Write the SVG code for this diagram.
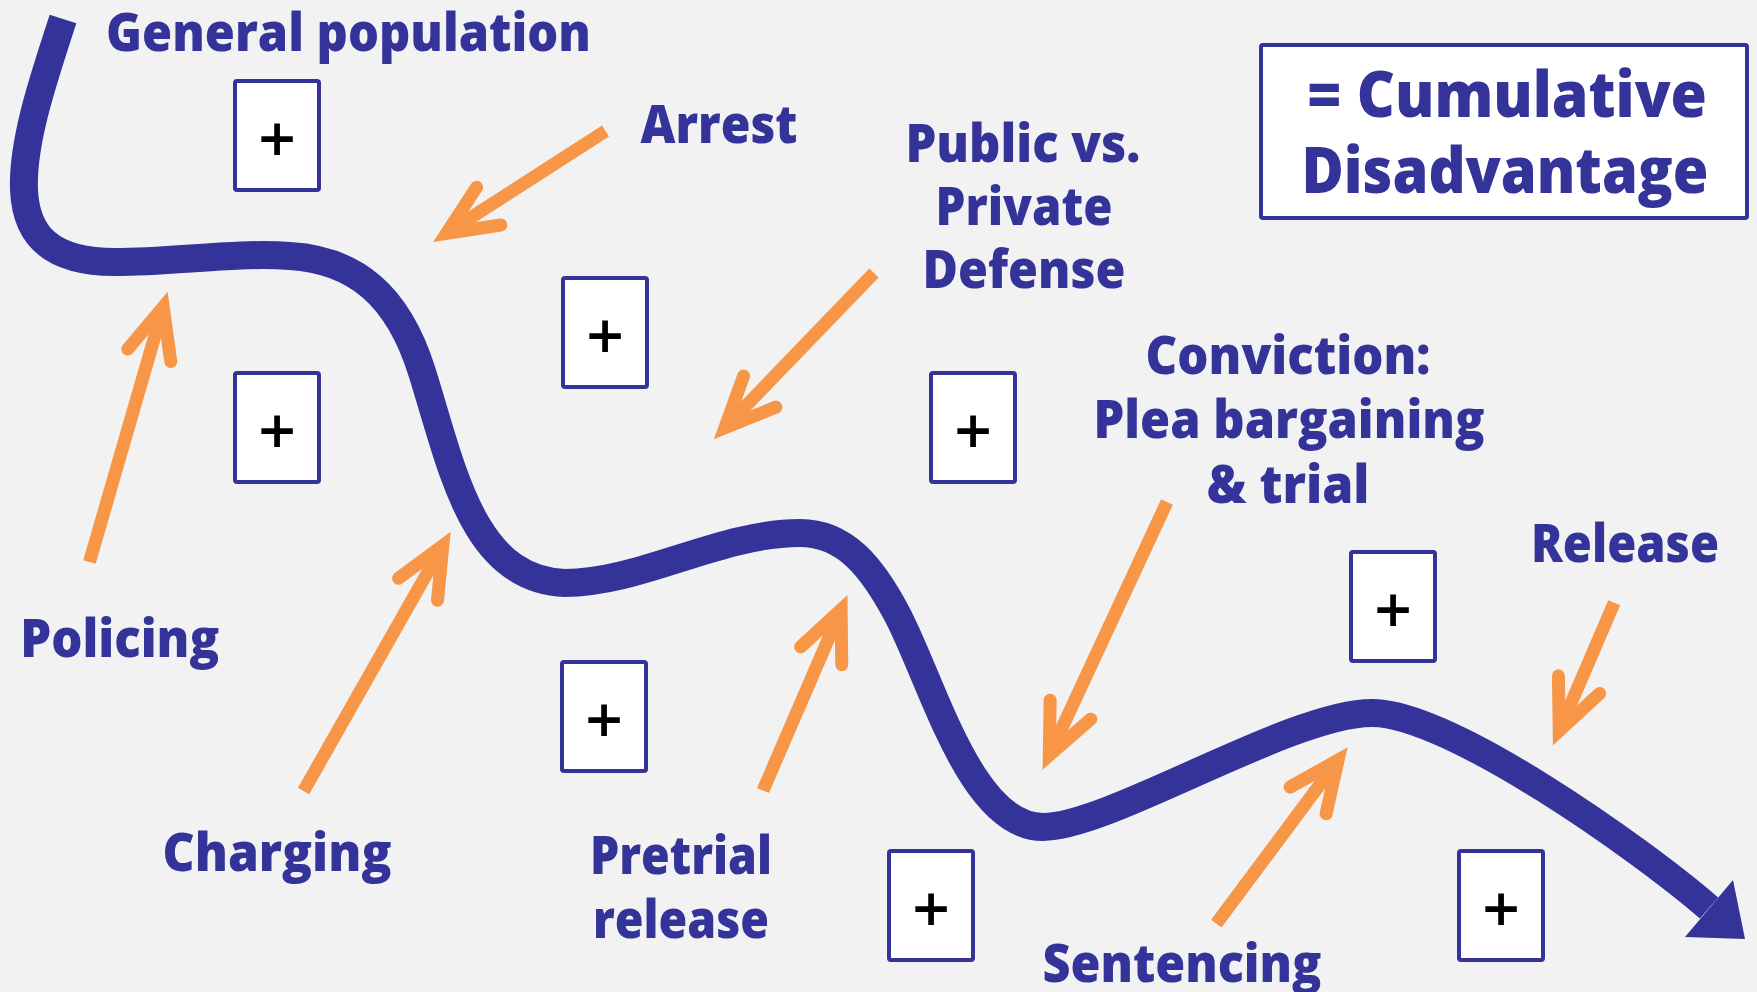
<svg xmlns="http://www.w3.org/2000/svg" width="1757" height="992" viewBox="0 0 1757 992">
<style>
.lbl{font-family:"Open Sans","Noto Sans","Liberation Sans",sans-serif;font-weight:800;font-size:53px;fill:#333399;text-anchor:middle}
.big{font-size:64px}
.box rect{fill:#ffffff;stroke:#333399;stroke-width:4}
.plus{font-family:"Open Sans","Noto Sans","Liberation Sans",sans-serif;font-weight:600;font-size:66px;fill:#000000;text-anchor:middle}
.oarrow{stroke:#F79646;stroke-width:13;fill:none;stroke-linecap:butt;marker-end:url(#oh)}
.flow{stroke:#333399;stroke-width:28;fill:none;stroke-linecap:butt}
</style>
<defs>
<marker id="oh" markerUnits="userSpaceOnUse" orient="auto" refX="0" refY="0" markerWidth="120" markerHeight="120" overflow="visible">
<path d="M-50.2,-22.4 L0,0 L-50.2,22.4" fill="none" stroke="#F79646" stroke-width="13" stroke-linecap="round" stroke-linejoin="miter" stroke-miterlimit="4"/>
</marker>
</defs>
<rect x="0" y="0" width="1757" height="992" fill="#F2F2F2"/>

<g id="connectors">
<path id="flow" class="flow" d="M63,19 C45,75 22,140 24,190 C26,235 50,262 115,262 C175,262 235,252 290,256 C355,260 398,295 422,372 C452,467 472,580 565,583 C640,583 720,533 800,533 C845,533 872,567 897,614 C932,680 970,827 1043,827 C1110,827 1290,713 1372,713 C1450,713 1642,850 1709,908"/>
<polygon id="flow-head" points="1745,939 1733,880 1685,937" fill="#333399"/>
<line id="a-policing" class="oarrow" x1="89.5" y1="562" x2="163.2" y2="307.1"/>
<line id="a-arrest" class="oarrow" x1="605.5" y1="131" x2="446.5" y2="233.3"/>
<line id="a-charging" class="oarrow" x1="303.6" y1="791" x2="442.8" y2="545.6"/>
<line id="a-public" class="oarrow" x1="874" y1="273" x2="724.9" y2="427.7"/>
<line id="a-pretrial" class="oarrow" x1="763" y1="790.5" x2="841.1" y2="609.7"/>
<line id="a-conviction" class="oarrow" x1="1167" y1="502" x2="1049.3" y2="755.2"/>
<line id="a-release" class="oarrow" x1="1614.2" y1="602.8" x2="1559.2" y2="730.8"/>
<line id="a-sentencing" class="oarrow" x1="1216.3" y1="923.6" x2="1338.1" y2="760.1"/>
</g>

<g id="box1" class="box"><rect x="235" y="81" width="84" height="109" rx="2"/><text class="plus" x="277" y="161.5">+</text></g>
<g id="box2" class="box"><rect x="563" y="278" width="84" height="109" rx="2"/><text class="plus" x="605" y="358.5">+</text></g>
<g id="box3" class="box"><rect x="931" y="373" width="84" height="109" rx="2"/><text class="plus" x="973" y="453.5">+</text></g>
<g id="box4" class="box"><rect x="1351" y="552" width="84" height="109" rx="2"/><text class="plus" x="1393" y="632.5">+</text></g>
<g id="box5" class="box"><rect x="1459" y="851" width="84" height="109" rx="2"/><text class="plus" x="1501" y="931.5">+</text></g>
<g id="box6" class="box"><rect x="889" y="851" width="84" height="109" rx="2"/><text class="plus" x="931" y="931.5">+</text></g>
<g id="box7" class="box"><rect x="562" y="662" width="84" height="109" rx="2"/><text class="plus" x="604" y="742.5">+</text></g>
<g id="box8" class="box"><rect x="235" y="373" width="84" height="109" rx="2"/><text class="plus" x="277" y="453.5">+</text></g>

<g id="general-population"><text class="lbl" x="348.5" y="50.7" textLength="485" lengthAdjust="spacingAndGlyphs">General population</text></g>
<g id="arrest"><text class="lbl" x="719" y="142.7" textLength="157" lengthAdjust="spacingAndGlyphs">Arrest</text></g>
<g id="public-private">
<text class="lbl" x="1023" y="161.7" textLength="235" lengthAdjust="spacingAndGlyphs">Public vs.</text>
<text class="lbl" x="1024" y="225" textLength="177" lengthAdjust="spacingAndGlyphs">Private</text>
<text class="lbl" x="1024" y="288.3" textLength="203" lengthAdjust="spacingAndGlyphs">Defense</text>
</g>
<g id="conviction">
<text class="lbl" x="1288" y="374" textLength="285" lengthAdjust="spacingAndGlyphs">Conviction:</text>
<text class="lbl" x="1289" y="438.3" textLength="391" lengthAdjust="spacingAndGlyphs">Plea bargaining</text>
<text class="lbl" x="1288" y="503.3" textLength="163" lengthAdjust="spacingAndGlyphs">&amp; trial</text>
</g>
<g id="release"><text class="lbl" x="1625" y="561.7" textLength="188" lengthAdjust="spacingAndGlyphs">Release</text></g>
<g id="sentencing"><text class="lbl" x="1182" y="981.7" textLength="279" lengthAdjust="spacingAndGlyphs">Sentencing</text></g>
<g id="pretrial">
<text class="lbl" x="681" y="874" textLength="182" lengthAdjust="spacingAndGlyphs">Pretrial</text>
<text class="lbl" x="681" y="938.3" textLength="176" lengthAdjust="spacingAndGlyphs">release</text>
</g>
<g id="charging"><text class="lbl" x="277" y="871" textLength="229" lengthAdjust="spacingAndGlyphs">Charging</text></g>
<g id="policing"><text class="lbl" x="119.7" y="656.7" textLength="199" lengthAdjust="spacingAndGlyphs">Policing</text></g>

<g id="cumulative">
<rect x="1261" y="45" width="486" height="173" rx="2" fill="#ffffff" stroke="#333399" stroke-width="4"/>
<text class="lbl big" x="1507" y="116.7" textLength="400" lengthAdjust="spacingAndGlyphs">= Cumulative</text>
<text class="lbl big" x="1505" y="193.3" textLength="407" lengthAdjust="spacingAndGlyphs">Disadvantage</text>
</g>
</svg>
